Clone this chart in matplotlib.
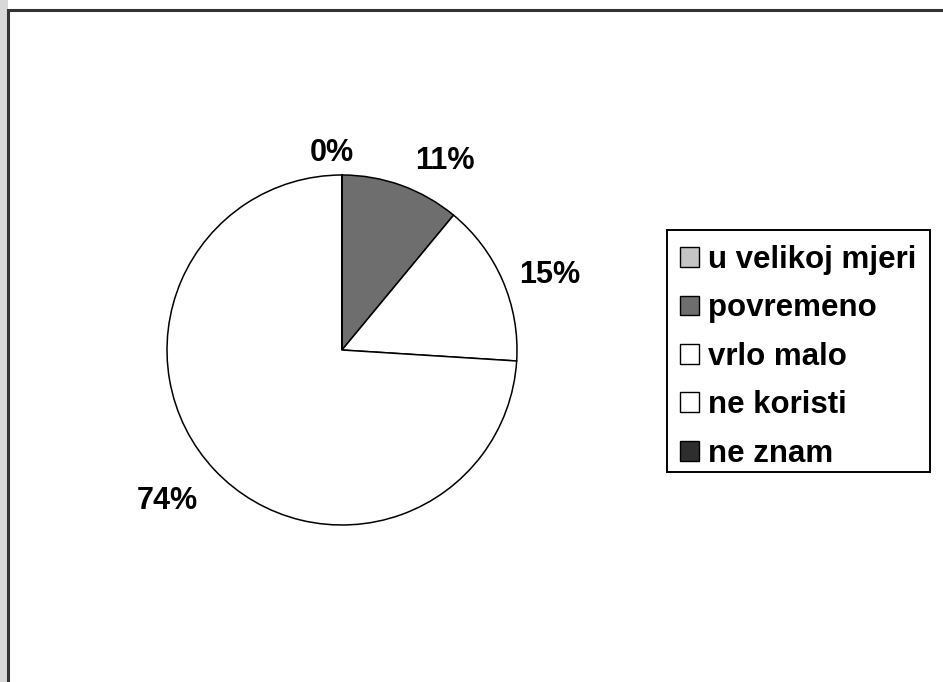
import matplotlib
matplotlib.use("Agg")
import matplotlib.pyplot as plt
from matplotlib.patches import Rectangle, Patch
import numpy as np

plt.rcParams['font.family'] = ['Liberation Sans', 'DejaVu Sans']

categories = ["u velikoj mjeri", "povremeno", "vrlo malo", "ne koristi", "ne znam"]
values = [0.001, 11, 15, 74, 0.001]
pct_labels = ["0%", "11%", "15%", "74%", "0%"]
colors = ["#c4c4c4", "#6e6e6e", "#ffffff", "#ffffff", "#2e2e2e"]

W, H = 943, 682
fig = plt.figure(figsize=(W / 100, H / 100), dpi=100)
fig.patch.set_facecolor("white")

# outer frame
fig.patches.append(Rectangle((0, 0), 8 / W, 1, transform=fig.transFigure,
                             facecolor="#d8d8d8", edgecolor="none", zorder=-3))
fig.patches.append(Rectangle((8 / W, -0.05), 1.1, 1 - 10 / H + 0.05, transform=fig.transFigure,
                             facecolor="white", edgecolor="#333333", linewidth=2.2, zorder=-2))

cx, cy, r = 342, 350, 175
ax = fig.add_axes([(cx - r) / W, (H - cy - r) / H, 2 * r / W, 2 * r / H])
ax.set_zorder(1)
wedges, _ = ax.pie(values, colors=colors, startangle=90, counterclock=False,
                   wedgeprops=dict(edgecolor="black", linewidth=1.1))
ax.set_xlim(-1, 1)
ax.set_ylim(-1, 1)
ax.set_aspect("equal")
ax.axis("off")

# label placement (distance factor, angle offset)
dists = [1.13, 1.23, 1.26, 1.32, None]
offsets = [0, -8.8, -3.4, -2.3, 0]
for w, lab, d, off in zip(wedges, pct_labels, dists, offsets):
    if d is None:
        continue
    ang = np.deg2rad((w.theta1 + w.theta2) / 2 + off)
    if lab == "0%":
        ang = np.deg2rad(93)
    ax.text(d * np.cos(ang), d * np.sin(ang), lab, ha="center", va="center",
            fontsize=22, fontweight="bold", clip_on=False)

# legend frame
fig.patches.append(Rectangle((667 / W, 1 - 472 / H), (930 - 667) / W, (472 - 230) / H,
                             transform=fig.transFigure, facecolor="white",
                             edgecolor="black", linewidth=1.4, zorder=2))
handles = [Patch(facecolor=c, edgecolor="black", linewidth=1.0) for c in colors]
leg = fig.legend(handles, categories, loc="upper left",
                 bbox_to_anchor=(680 / W, 1 - 245 / H), frameon=False,
                 prop=dict(size=22.5, weight="bold"), handlelength=0.6, handleheight=0.6,
                 handletextpad=0.3, labelspacing=0.59, borderpad=0.0, borderaxespad=0)
leg.set_zorder(3)

fig.savefig("out.png", dpi=100)
